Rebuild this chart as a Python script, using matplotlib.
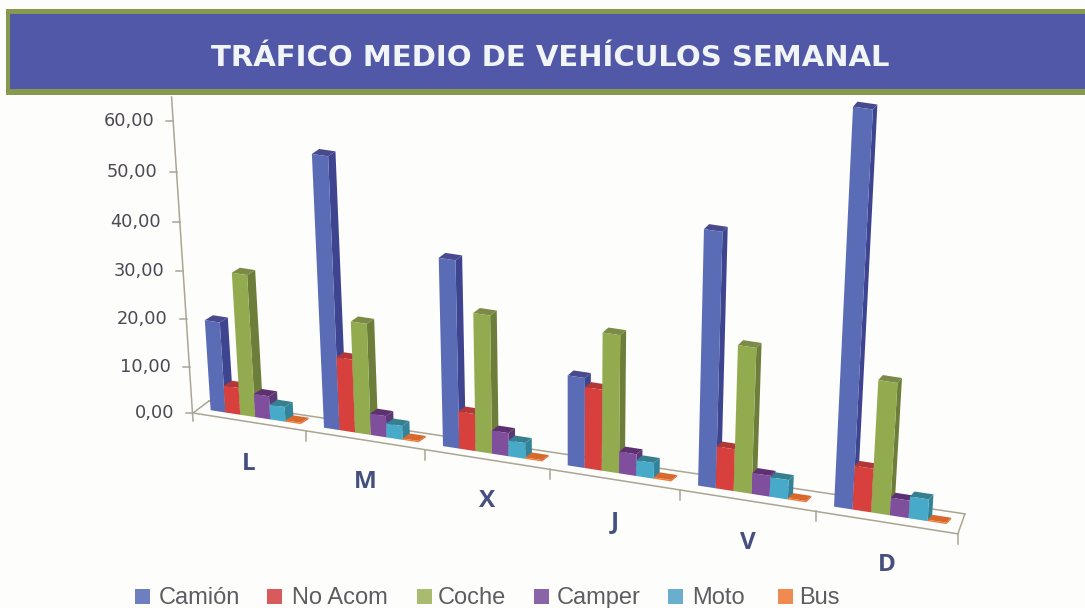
import matplotlib
matplotlib.use("Agg")
import matplotlib.pyplot as plt
from matplotlib.patches import Rectangle

# ---- data ----
days = ["L", "M", "X", "J", "V", "D"]
camion = [19.2, 56.4, 39.4, 19.2, 53.0, 80.6]
no_acom = [5.8, 15.6, 8.0, 17.3, 9.0, 9.4]
coche = [30.0, 23.6, 29.2, 29.2, 30.8, 28.0]
camper = [5.0, 4.6, 5.0, 4.7, 4.5, 3.8]
moto = [3.2, 3.0, 3.4, 3.4, 4.2, 4.7]
bus = [0.3, 0.3, 0.3, 0.3, 0.3, 0.3]
series_names = ["Camión", "No Acom", "Coche", "Camper", "Moto", "Bus"]
y_ticks = [0, 10, 20, 30, 40, 50, 60]
title = "TRÁFICO MEDIO DE VEHÍCULOS SEMANAL"

series = [camion, no_acom, coche, camper, moto, bus]
face = ["#5a6cb6", "#d8403e", "#93ab4f", "#7f4e9c", "#46aac8", "#ee7c34"]
side = ["#3e4490", "#a9302f", "#6d7e3a", "#5c3876", "#33849a", "#d8692c"]
top = ["#494a8e", "#b23838", "#7b8a46", "#5e3072", "#367f90", "#d8692c"]
legend_col = ["#6e7fc0", "#d85a5c", "#a8bb6e", "#8a64a8", "#6aaecd", "#f08a50"]
legend_sq = [135, 267, 417, 534, 668, 778]
legend_tx = [159, 292, 438, 557, 692, 799]


# ---- slanted perspective of the floor and vertical scale ----
def floor_x(t):
    return 193 + 110.5 * t + 2.83 * t * t


def height(v):
    return 4.6 * v + 0.0045 * v * v


def project(t, v, d):
    """category position t, value v, depth d (0 front, 1 back) -> canvas point"""
    x0 = floor_x(t)
    y0 = 413 + 0.158 * (x0 - 193)
    bx = x0 + d * (16 - 1.5 * t)
    by = y0 + d * (-12 - 1.33 * t)
    h = height(v)
    return bx + (bx - 570) * 1.8e-4 * h, by - h


fig = plt.figure(figsize=(10.85, 6.08), dpi=100, facecolor="#fdfdfb")
ax = fig.add_axes([0, 0, 1, 1])
ax.set_xlim(0, 1085)
ax.set_ylim(608, 0)
ax.axis("off")

# title band
ax.add_patch(Rectangle((6, 9), 1085, 86, fc="#85994f", ec="none", zorder=1))
ax.add_patch(Rectangle((10, 14), 1085, 75, fc="#5158a8", ec="none", zorder=1))
ax.text(550, 58, title, color="#f2f5f5", fontsize=21, fontweight="bold",
        family="DejaVu Sans", ha="center", va="center", zorder=2)

# floor
LINE = "#aba594"
n = len(days)
for a, b in [((0, 0), (n, 0)), ((0, 1), (n, 1)), ((0, 0), (0, 1)), ((n, 0), (n, 1))]:
    p, q = project(a[0], 0, a[1]), project(b[0], 0, b[1])
    ax.plot([p[0], q[0]], [p[1], q[1]], color=LINE, lw=1.1, zorder=2)
for t in range(1, n + 1):
    p = project(t, 0, 0)
    ax.plot([p[0], p[0]], [p[1], p[1] + 10], color=LINE, lw=1.1, zorder=2)

# value axis
p0, p1 = project(0, 0, 0), project(0, 64.6, 0)
ax.plot([p0[0], p1[0]], [p0[1] + 8, p1[1]], color=LINE, lw=1.1, zorder=2)
for v in y_ticks:
    x, y = project(0, v, 0)
    ax.plot([x - 7, x], [y, y], color=LINE, lw=1.1, zorder=2)
    ax.text(x - 19, y, f"{v:.2f}".replace(".", ","), color="#4d4855", fontsize=12.8,
            ha="right", va="center", family="DejaVu Sans", zorder=3)

# bars
D0 = 0.38
START, WIDTH = 0.105, 0.133
for g in range(n):
    off_x, off_y = 8 - 0.7 * g, -5
    for s, vals in enumerate(series):
        v = vals[g]
        t0 = g + START + s * WIDTH
        t1 = t0 + WIDTH
        fl = project(t0, 0, D0)
        fr = project(t1, 0, D0)
        tl = project(t0, v, D0)
        tr = project(t1, v, D0)
        z = 4 + g + s * 0.1
        ax.fill([fr[0], fr[0] + off_x, tr[0] + off_x, tr[0]],
                [fr[1], fr[1] + off_y, tr[1] + off_y, tr[1]],
                color=side[s], lw=0, zorder=z)
        ax.fill([tl[0], tr[0], tr[0] + off_x, tl[0] + off_x],
                [tl[1], tr[1], tr[1] + off_y, tl[1] + off_y],
                color=top[s], lw=0, zorder=z)
        ax.fill([fl[0], fr[0], tr[0], tl[0]], [fl[1], fr[1], tr[1], tl[1]],
                color=face[s], lw=0, zorder=z)

# category labels
for g, day in enumerate(days):
    x, y = project(g + 0.5, 0, 0)
    ax.text(x, y + 42, day, color="#45507f", fontsize=17.5, family="Open Sans",
            fontweight="bold", ha="center", va="center", zorder=3)

# legend
for name, col, xs, xt in zip(series_names, legend_col, legend_sq, legend_tx):
    ax.add_patch(Rectangle((xs, 589), 15, 15, fc=col, ec="none", zorder=3))
    ax.text(xt, 604, name, color="#5c5c62", fontsize=17, family="Liberation Sans",
            ha="left", va="baseline", zorder=3)

fig.savefig("out.png", dpi=100, facecolor=fig.get_facecolor())
